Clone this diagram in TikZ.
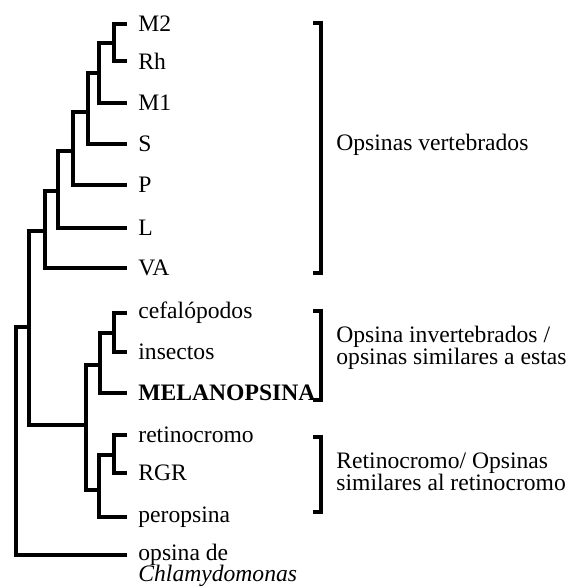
\documentclass[tikz,border=0pt]{standalone}
\usepackage{fontspec}
\setmainfont{Liberation Serif}
\usetikzlibrary{positioning}
\tikzset{
  leaf/.style = {anchor=west, inner xsep=5.5pt, inner ysep=0pt, font=\fontsize{11.8}{11}\selectfont},
  group/.style = {anchor=west, inner sep=0pt, align=left, font=\fontsize{11.8}{11}\selectfont},
  branch/.style = {line width=2.4pt, line join=miter},
  bracket/.style = {line width=2.4pt},
}

\begin{document}
\begin{tikzpicture}[x=0.5pt, y=-0.5pt]
    \useasboundingbox (0,0) rectangle (566,587);

    % Leaves
    \node (m2) [leaf] at (127,24) {M2};
    \node (rh) [leaf] at (127,61) {Rh};
    \node (m1) [leaf] at (127,103) {M1};
    \node (s) [leaf] at (127,144) {S};
    \node (p) [leaf] at (127,185) {P};
    \node (l) [leaf] at (127,228) {L};
    \node (va) [leaf] at (127,268) {VA};
    \node (cef) [leaf] at (127,313) {cefalópodos};
    \node (ins) [leaf] at (127,352) {insectos};
    \node (mel) [leaf] at (127,393) {\bfseries MELANOPSINA};
    \node (ret) [leaf] at (127,435) {retinocromo};
    \node (rgr) [leaf] at (127,473) {RGR};
    \node (per) [leaf] at (127,517) {peropsina};
    \node (chl) [leaf] at (127,555) {opsina de};
    \node (chlname) [leaf] at (127,576) {\itshape Chlamydomonas};

    % Inner nodes
    \coordinate (a1) at (114,43);
    \coordinate (a2) at (99,73);
    \coordinate (a3) at (88,112);
    \coordinate (a4) at (73,151);
    \coordinate (a5) at (58,191);
    \coordinate (a6) at (45,231);
    \coordinate (b1) at (114,333);
    \coordinate (b2) at (100,365);
    \coordinate (c1) at (114,455);
    \coordinate (c2) at (99,490);
    \coordinate (bc) at (86,425);
    \coordinate (v) at (29,327);
    \coordinate (root) at (16,440);

    % Branches
    \draw [branch] (m2.west) -| (a1) |- (rh.west);
    \draw [branch] (a1) -| (a2) |- (m1.west);
    \draw [branch] (a2) -| (a3) |- (s.west);
    \draw [branch] (a3) -| (a4) |- (p.west);
    \draw [branch] (a4) -| (a5) |- (l.west);
    \draw [branch] (a5) -| (a6) |- (va.west);
    \draw [branch] (cef.west) -| (b1) |- (ins.west);
    \draw [branch] (b1) -| (b2) |- (mel.west);
    \draw [branch] (ret.west) -| (c1) |- (rgr.west);
    \draw [branch] (c1) -| (c2) |- (per.west);
    \draw [branch] (b2) -| (bc) |- (c2);
    \draw [branch] (a6) -| (v) |- (bc);
    \draw [branch] (v) -| (root) |- (chl.west);

    % Brackets
    \draw [bracket] (313,23) -| (321,273) -- (313,273);
    \draw [bracket] (313,311) -| (321,400) -- (313,400);
    \draw [bracket] (313,437) -| (321,512) -- (313,512);

    % Group labels
    \node (vert) [group] at (336,145) {Opsinas vertebrados};
    \node (invert) [group] at (336,348) {Opsina invertebrados /\\opsinas similares a estas};
    \node (retino) [group] at (336,472) {Retinocromo/ Opsinas\\similares al retinocromo};

\end{tikzpicture}
\end{document}
